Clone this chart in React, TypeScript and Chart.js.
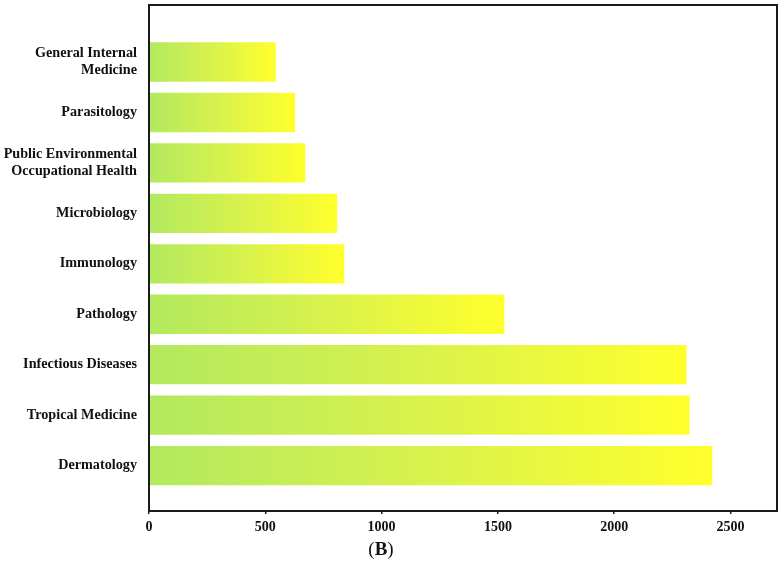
import React, { useEffect, useRef } from "react";
import { Chart, registerables } from "chart.js";

Chart.register(...registerables);

// Top to bottom as displayed
const categories: string[][] = [
  ["General Internal", "Medicine"],
  ["Parasitology"],
  ["Public Environmental", "Occupational Health"],
  ["Microbiology"],
  ["Immunology"],
  ["Pathology"],
  ["Infectious Diseases"],
  ["Tropical Medicine"],
  ["Dermatology"],
];
const values: number[] = [545, 628, 672, 809, 840, 1528, 2311, 2324, 2422];
const xTicks: number[] = [0, 500, 1000, 1500, 2000, 2500];
const panelLabel = "B";

const FONT = "'Liberation Serif', 'Times New Roman', serif";

const frame = {
  id: "frame",
  afterDatasetsDraw(chart: any) {
    const { ctx, chartArea: a } = chart;
    ctx.save();
    ctx.strokeStyle = "#1a1a1a";
    ctx.lineWidth = 2;
    ctx.strokeRect(a.left, a.top, a.right - a.left, a.bottom - a.top);
    ctx.restore();
  },
  afterDraw(chart: any) {
    const { ctx } = chart;
    ctx.save();
    ctx.fillStyle = "#111";
    ctx.textBaseline = "alphabetic";
    const size = 19;
    const normal = `${size}px ${FONT}`;
    const bold = `bold ${size}px ${FONT}`;
    ctx.font = normal;
    const wp = ctx.measureText("(").width;
    const wq = ctx.measureText(")").width;
    ctx.font = bold;
    const wb = ctx.measureText(panelLabel).width;
    const total = wp + wb + wq;
    let x = 381 - total / 2;
    const y = 555;
    ctx.textAlign = "left";
    ctx.font = normal;
    ctx.fillText("(", x, y);
    x += wp;
    ctx.font = bold;
    ctx.fillText(panelLabel, x, y);
    x += wb;
    ctx.font = normal;
    ctx.fillText(")", x, y);
    ctx.restore();
  },
};

export default function App() {
  const ref = useRef<HTMLCanvasElement | null>(null);
  useEffect(() => {
    if (!ref.current) return;
    const chart = new Chart(ref.current, {
      type: "bar",
      data: {
        datasets: [
          {
            data: values.map((v, i) => ({ x: v, y: i })),
            categoryPercentage: 1,
            barPercentage: 0.78,
            borderWidth: 0,
            backgroundColor: (c: any) => {
              const chart = c.chart;
              const xs = chart.scales?.x;
              if (!xs || !chart.chartArea || c.dataIndex === undefined) return "#cfef55";
              const x0 = xs.getPixelForValue(0);
              const x1 = xs.getPixelForValue(values[c.dataIndex]);
              if (!isFinite(x0) || !isFinite(x1) || x1 <= x0) return "#cfef55";
              const g = chart.ctx.createLinearGradient(x0, 0, x1, 0);
              g.addColorStop(0, "#b2e95f");
              g.addColorStop(0.5, "#d9f24c");
              g.addColorStop(1, "#ffff2c");
              return g;
            },
          },
        ],
      },
      options: {
        indexAxis: "y",
        animation: false,
        responsive: true,
        maintainAspectRatio: false,
        layout: { padding: { top: 5, right: 5, left: 0, bottom: 0 } },
        plugins: { legend: { display: false }, tooltip: { enabled: false } },
        scales: {
          x: {
            type: "linear",
            min: 0,
            max: 2700,
            offset: false,
            border: { display: false },
            grid: {
              drawOnChartArea: false,
              drawTicks: true,
              tickLength: 3,
              color: "#222",
              lineWidth: 1.5,
            },
            ticks: {
              stepSize: 500,
              includeBounds: false,
              padding: 5,
              color: "#111",
              font: { family: FONT, size: 14, weight: "bold" },
              callback: (v: any) => String(v),
            },
            afterBuildTicks: (s: any) => {
              s.ticks = xTicks.map((v) => ({ value: v }));
            },
            afterFit: (s: any) => {
              s.height = 68;
              s.paddingLeft = 0;
              s.paddingRight = 0;
            },
          },
          y: {
            type: "linear",
            reverse: true,
            min: -1.13,
            max: 8.9,
            offset: false,
            bounds: "data",
            border: { display: false },
            grid: { display: false },
            ticks: {
              autoSkip: false,
              padding: 4,
              color: "#111",
              font: { family: FONT, size: 14.2, weight: "bold", lineHeight: 1.2 },
              callback: (v: any) => categories[Math.round(v)] ?? "",
            },
            afterBuildTicks: (s: any) => {
              s.ticks = categories.map((_, i) => ({ value: i }));
            },
            afterFit: (s: any) => {
              s.width = 149;
              s.paddingTop = 0;
              s.paddingBottom = 0;
            },
          },
        },
      },
      plugins: [frame],
    } as any);
    return () => chart.destroy();
  }, []);
  return (
    <div style={{ position: "fixed", left: 0, top: 0, width: 782, height: 579, background: "#fff" }}>
      <canvas ref={ref} />
    </div>
  );
}
